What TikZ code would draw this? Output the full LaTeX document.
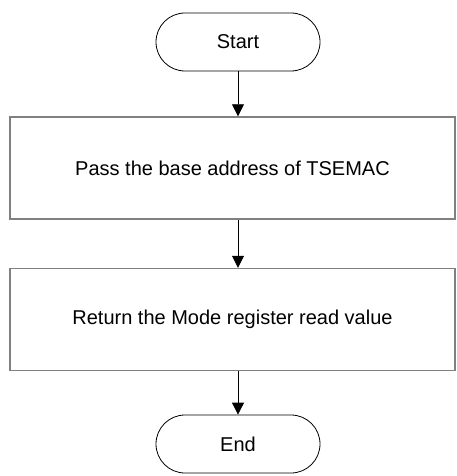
\documentclass[tikz,border=0pt]{standalone}
\usepackage{fontspec}
\setmainfont{Liberation Sans}
\usetikzlibrary{arrows.meta}
\begin{document}
\begin{tikzpicture}[x=1pt,y=-1pt,
  terminal/.style={draw=black,line width=0.8pt,rounded corners=29pt,minimum width=164pt,minimum height=58pt,inner sep=0pt,font=\fontsize{20}{24}\selectfont},
  procbox/.style={draw=black!50,line width=1.4pt,minimum width=445pt,minimum height=102pt,inner sep=0pt,font=\fontsize{20}{24}\selectfont},
  flow/.style={draw=black,line width=0.8pt,-{Triangle[length=12pt,width=12pt]}}]
\useasboundingbox (0,0) rectangle (456,476);
\node[terminal] (start) at (238,42) {Start};
\node[procbox] (pass) at (232.5,168) {Pass the base address of TSEMAC};
\node[procbox] (ret) at (232.5,319.5) {Return the Mode register read value};
\node[terminal] (end) at (238,444) {End};
\draw[flow] (start.south) -- (start.south |- pass.north);
\draw[flow] (start.south |- pass.south) -- (start.south |- ret.north);
\draw[flow] (start.south |- ret.south) -- (end.north);
\end{tikzpicture}
\end{document}
